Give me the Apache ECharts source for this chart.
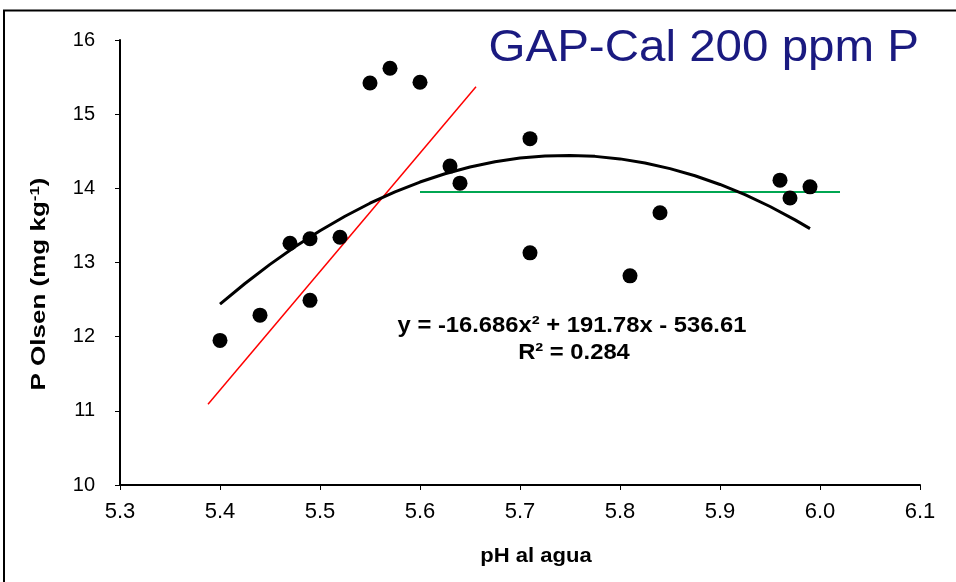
<!DOCTYPE html>
<html><head><meta charset="utf-8">
<script src="https://cdn.jsdelivr.net/npm/echarts@6/dist/echarts.min.js"></script>
<style>html,body{margin:0;padding:0;background:#fff}#c{width:956px;height:582px}</style>
</head><body><div id="c"></div>
<script>
const phValues = [5.40, 5.44, 5.47, 5.49, 5.49, 5.52, 5.55, 5.57, 5.60, 5.63, 5.64, 5.71, 5.71, 5.81, 5.84, 5.96, 5.97, 5.99];
const pOlsen   = [11.95, 12.29, 13.26, 13.32, 12.49, 13.34, 15.42, 15.62, 15.43, 14.30, 14.07, 14.67, 13.13, 12.82, 13.67, 14.11, 13.87, 14.02];
const curveX = [5.400, 5.425, 5.450, 5.475, 5.500, 5.525, 5.550, 5.575, 5.600, 5.625, 5.650, 5.675, 5.700,
                5.725, 5.750, 5.775, 5.800, 5.825, 5.850, 5.875, 5.900, 5.925, 5.950, 5.975, 5.990];
const curveY = [12.438, 12.717, 12.975, 13.212, 13.429, 13.624, 13.799, 13.952, 14.085, 14.197, 14.288, 14.359, 14.408,
                14.437, 14.444, 14.431, 14.397, 14.342, 14.266, 14.170, 14.052, 13.914, 13.755, 13.575, 13.457];
const redX = [5.388, 5.656];
const redY = [11.09, 15.37];
const greenX = [5.60, 6.02];
const greenY = [13.95, 13.95];
const xTicks = [5.3, 6.1, 0.1];
const yTicks = [10, 16, 1];
const titleText = 'GAP-Cal 200 ppm P';
const equationText = ['y = -16.686x² + 191.78x - 536.61', 'R² = 0.284'];

const zip = (a, b) => a.map((v, i) => [v, b[i]]);
const font = 'Arial, "Liberation Sans", sans-serif';
const chart = echarts.init(document.getElementById('c'));
chart.setOption({
  animation: false,
  backgroundColor: '#fff',
  grid: { left: 120, right: 36, top: 40, bottom: 97 },
  xAxis: {
    type: 'value', min: xTicks[0], max: xTicks[1], interval: xTicks[2],
    splitLine: { show: false },
    axisLine: { onZero: false, lineStyle: { color: '#000', width: 2 } },
    axisTick: { show: true, length: 5, lineStyle: { color: '#000', width: 1 } },
    axisLabel: { color: '#000', fontSize: 22, fontFamily: font, margin: 16, formatter: v => v.toFixed(1) }
  },
  yAxis: {
    type: 'value', min: yTicks[0], max: yTicks[1], interval: yTicks[2],
    splitLine: { show: false },
    axisLine: { onZero: false, lineStyle: { color: '#000', width: 2 } },
    axisTick: { show: true, length: 5, lineStyle: { color: '#000', width: 1 } },
    axisLabel: { color: '#000', fontSize: 20, fontFamily: font, margin: 25 }
  },
  series: [
    { type: 'line', data: zip(redX, redY), symbol: 'none', lineStyle: { color: '#ff0000', width: 1.5 }, z: 2 },
    { type: 'line', data: zip(greenX, greenY), symbol: 'none', lineStyle: { color: '#00a651', width: 2 }, z: 2 },
    { type: 'line', data: zip(curveX, curveY), symbol: 'none', lineStyle: { color: '#000', width: 3, cap: 'butt', join: 'round' }, z: 3 },
    { type: 'scatter', data: zip(phValues, pOlsen), symbolSize: 15, itemStyle: { color: '#000', opacity: 1 }, z: 4 }
  ],
  graphic: [
    { type: 'rect', shape: { x: 4, y: 10.5, width: 1200, height: 1000 }, style: { fill: 'none', stroke: '#000', lineWidth: 2 }, silent: true },
    { type: 'text', x: 919, y: 49, scaleX: 1.08, style: { text: titleText, fill: '#1a1a80', font: '44px ' + font, align: 'right', verticalAlign: 'middle' } },
    { type: 'text', x: 572, y: 326, scaleX: 1.08, style: { text: equationText[0], fill: '#000', font: 'bold 22px ' + font, align: 'center', verticalAlign: 'middle' } },
    { type: 'text', x: 574, y: 353, scaleX: 1.08, style: { text: equationText[1], fill: '#000', font: 'bold 22px ' + font, align: 'center', verticalAlign: 'middle' } },
    { type: 'text', x: 536, y: 556, scaleX: 1.05, style: { text: 'pH al agua', fill: '#000', font: 'bold 21px ' + font, align: 'center', verticalAlign: 'middle' } },
    { type: 'text', x: 39, y: 284, rotation: Math.PI / 2, scaleX: 1.3, style: {
        text: '{a|P Olsen (mg kg}{s|-1}{a|)}', align: 'center', verticalAlign: 'middle',
        rich: {
          a: { font: 'bold 20px ' + font, fill: '#000' },
          s: { font: 'bold 13px ' + font, fill: '#000', verticalAlign: 'top', padding: [0, 0, 8, 0] }
        } } }
  ]
});
</script></body></html>
